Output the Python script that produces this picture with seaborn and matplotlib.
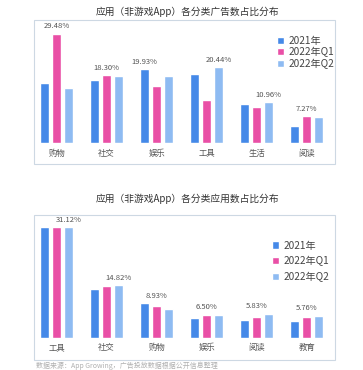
import matplotlib
matplotlib.use("Agg")
import matplotlib.pyplot as plt
import seaborn as sns
import pandas as pd
from matplotlib.patches import Rectangle

sns.set_theme(style="white")
plt.rcParams['font.family'] = ['Noto Sans CJK SC', 'DejaVu Sans']

series = ["2021年", "2022年Q1", "2022年Q2"]
colors = ["#4589E8", "#E94FA6", "#8EBBF2"]

# top chart: ad share by category
top_title = "应用（非游戏App）各分类广告数占比分布"
top_cats = ["购物", "社交", "娱乐", "工具", "生活", "阅读"]
top_2021 = [16.3, 17.1, 19.93, 18.5, 10.6, 4.7]
top_q1 = [29.48, 18.30, 15.3, 11.7, 9.7, 7.27]
top_q2 = [14.9, 18.0, 18.0, 20.44, 10.96, 6.9]
top_label_series = [1, 1, 0, 2, 2, 1]

# bottom chart: app share by category
bot_title = "应用（非游戏App）各分类应用数占比分布"
bot_cats = ["工具", "社交", "购物", "娱乐", "阅读", "教育"]
bot_2021 = [31.1, 13.6, 9.7, 5.5, 5.1, 4.7]
bot_q1 = [31.1, 14.5, 8.93, 6.50, 5.83, 5.76]
bot_q2 = [31.12, 14.82, 8.0, 6.4, 6.7, 6.2]
bot_label_series = [2, 2, 1, 1, 1, 1]

footer = "数据来源：App Growing，广告投放数据根据公开信息整理"

W, H = 363, 370
fig = plt.figure(figsize=(W / 100, H / 100), dpi=100)
fig.patch.set_facecolor("white")


def px_axes(left, top, right, bottom):
    return fig.add_axes([left / W, (H - bottom) / H, (right - left) / W, (bottom - top) / H])


def draw(ax, cats, vals, label_series, ylim_top, legend_anchor, labelspacing):
    rows = []
    for s, v in zip(series, vals):
        for c, x in zip(cats, v):
            rows.append({"cat": c, "val": x, "series": s})
    df = pd.DataFrame(rows)
    sns.barplot(data=df, x="cat", y="val", hue="series", order=cats, hue_order=series,
                palette=colors, width=0.72, gap=0.2, saturation=1, ax=ax, errorbar=None)
    ax.set_xlim(-0.453, 5.566)
    ax.set_ylim(0, ylim_top)
    for sp in ax.spines.values():
        sp.set_visible(False)
    ax.set_yticks([])
    ax.set_xlabel("")
    ax.set_ylabel("")
    ax.tick_params(axis="x", length=0, pad=4, labelsize=6, labelcolor="#555555")
    ax.set_facecolor("none")
    for i in range(len(cats)):
        h = label_series[i]
        bar = ax.containers[h][i]
        gmax = max(v[i] for v in vals)
        ax.annotate(f"{vals[h][i]:.2f}%", (bar.get_x() + bar.get_width() / 2, gmax),
                    xytext=(0, 2.5), textcoords="offset points", ha="center", va="bottom",
                    fontsize=5.5, color="#555555")
    handles, labels = ax.get_legend_handles_labels()
    ax.legend(handles, labels, loc="upper left",
              bbox_to_anchor=(legend_anchor[0] / W, (H - legend_anchor[1]) / H),
              bbox_transform=fig.transFigure, frameon=False, fontsize=7.3,
              handlelength=0.7, handleheight=0.7, handletextpad=0.4,
              labelspacing=labelspacing, borderpad=0, labelcolor="#444444")


ax1 = px_axes(34, 20, 335, 143)
draw(ax1, top_cats, [top_2021, top_q1, top_q2], top_label_series, 33.2, (272, 31), 0.12)
ax2 = px_axes(34, 215, 335, 337.7)
draw(ax2, bot_cats, [bot_2021, bot_q1, bot_q2], bot_label_series, 34.6, (267, 235.5), 0.55)

for (t, b) in [(20, 164), (215, 360)]:
    fig.patches.append(Rectangle((34 / W, (H - b) / H), 301 / W, (b - t) / H,
                                 transform=fig.transFigure, fill=False,
                                 edgecolor="#cdd8e3", linewidth=0.8))

fig.text(187 / W, (H - 12) / H, top_title, ha="center", va="center", fontsize=7, color="#333333")
fig.text(187 / W, (H - 199) / H, bot_title, ha="center", va="center", fontsize=7, color="#333333")
fig.text(36 / W, (H - 365.5) / H, footer, ha="left", va="center", fontsize=5, color="#b0b0b0")

fig.savefig("out.png", dpi=100)
